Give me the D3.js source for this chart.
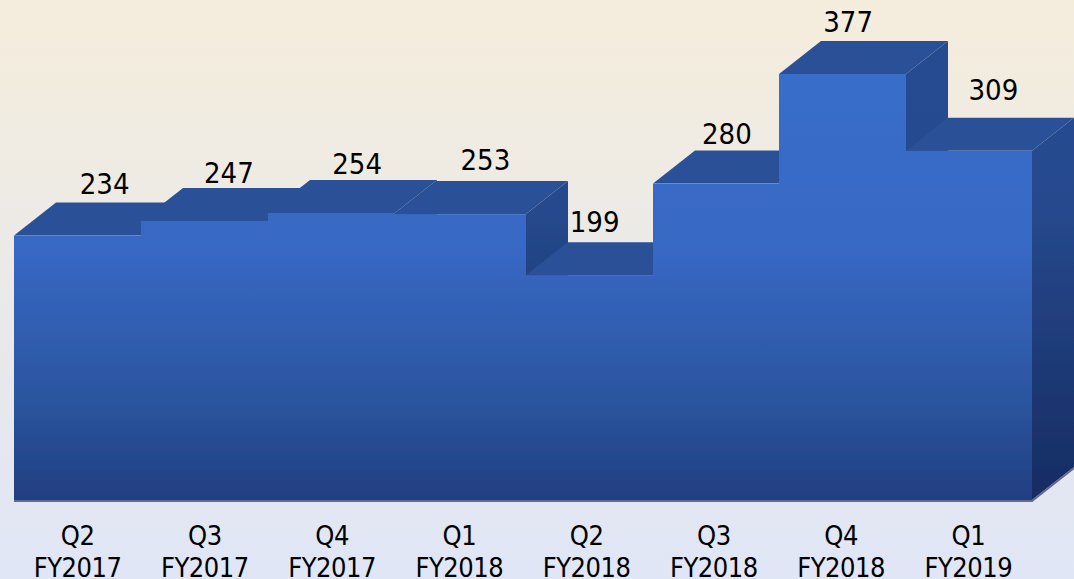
<!DOCTYPE html>
<html>
<head>
<meta charset="utf-8">
<script src="https://cdn.jsdelivr.net/npm/d3@7"></script>
<style>
  html, body { margin: 0; padding: 0; overflow: hidden; }
  svg { display: block; }
  text { font-family: "DejaVu Sans Condensed", "DejaVu Sans", sans-serif; font-stretch: condensed; fill: #000; }
</style>
</head>
<body>
<div id="chart"></div>
<script>
var quarters = ["Q2", "Q3", "Q4", "Q1", "Q2", "Q3", "Q4", "Q1"];
var years = ["FY2017", "FY2017", "FY2017", "FY2018", "FY2018", "FY2018", "FY2018", "FY2019"];
var values = [234, 247, 254, 253, 199, 280, 377, 309];

var width = 1074, height = 579;
var depthX = 42, depthY = 33;

// value labels were placed by hand in the original, not centred on the bars
var labelShiftX = [27, 24, 25, 26, 8, 13, 7, 25];
var labelGap = [9, 5, 6, 11, 10, 7, 9, 18];

var svg = d3.select("#chart").append("svg")
  .attr("width", width)
  .attr("height", height);

var defs = svg.append("defs");

function addGradient(id, stops) {
  var g = defs.append("linearGradient")
    .attr("id", id)
    .attr("gradientUnits", "userSpaceOnUse")
    .attr("x1", 0).attr("y1", 0).attr("x2", 0).attr("y2", 500);
  stops.forEach(function (s) {
    g.append("stop").attr("offset", s[0]).attr("stop-color", s[1]);
  });
}

addGradient("front", [[0, "#3a70cc"], [0.5, "#3768c4"], [0.8, "#2b559f"], [1, "#1f3f80"]]);
addGradient("side", [[0, "#264b92"], [0.4, "#264a8e"], [0.7, "#1f3b78"], [1, "#162c62"]]);

defs.append("filter")
  .attr("id", "soft")
  .append("feGaussianBlur")
  .attr("stdDeviation", 0.5);

var bgGrad = defs.append("linearGradient")
  .attr("id", "bg").attr("x1", 0).attr("y1", 0).attr("x2", 0).attr("y2", 1);
bgGrad.append("stop").attr("offset", 0).attr("stop-color", "#f5eddc");
bgGrad.append("stop").attr("offset", 1).attr("stop-color", "#e0e6f6");

svg.append("rect")
  .attr("width", width)
  .attr("height", height)
  .attr("fill", "url(#bg)");

// bars in the picture are not quite even, the 4th one is wider
var x = d3.scaleLinear()
  .domain([0, 3, 4, 8])
  .range([14, 395, 526, 1032])
  .interpolate(d3.interpolateRound);
var y = d3.scaleLinear().domain([0, 377]).range([500, 74]);
var xLabel = d3.scaleBand().domain(d3.range(values.length)).range([14, 1032]);

function poly(pts) {
  return d3.line()(pts) + "Z";
}

var barLayer = svg.append("g").attr("filter", "url(#soft)");

var bars = barLayer.selectAll("g.bar")
  .data(values)
  .enter()
  .append("g")
  .attr("class", "bar");

bars.append("path")
  .attr("fill", "url(#side)")
  .attr("d", function (d, i) {
    return poly([
      [x(i + 1), y(d)],
      [x(i + 1) + depthX, y(d) - depthY],
      [x(i + 1) + depthX, y(0) - depthY],
      [x(i + 1), y(0)]
    ]);
  });

bars.append("path")
  .attr("fill", "#2b5198")
  .attr("d", function (d, i) {
    return poly([
      [x(i), y(d)],
      [x(i) + depthX, y(d) - depthY],
      [x(i + 1) + depthX, y(d) - depthY],
      [x(i + 1), y(d)]
    ]);
  });

bars.append("rect")
  .attr("fill", "url(#front)")
  .attr("x", function (d, i) { return x(i); })
  .attr("y", function (d) { return y(d); })
  .attr("width", function (d, i) { return x(i + 1) - x(i); })
  .attr("height", function (d) { return y(0) - y(d); });

// soft shadow along the foot of the bars
barLayer.append("path")
  .attr("fill", "none")
  .attr("stroke", "#646b8c")
  .attr("stroke-width", 2)
  .attr("d", d3.line()([
    [x(0), y(0) + 1],
    [x(8), y(0) + 1],
    [x(8) + depthX, y(0) - depthY + 1]
  ]));

svg.selectAll("text.value")
  .data(values)
  .enter()
  .append("text")
  .attr("class", "value")
  .attr("text-anchor", "middle")
  .attr("font-size", 29)
  .attr("x", function (d, i) { return xLabel(i) + xLabel.bandwidth() / 2 + labelShiftX[i]; })
  .attr("y", function (d, i) { return y(d) - depthY - labelGap[i]; })
  .text(function (d) { return d; });

var cats = svg.selectAll("text.cat")
  .data(quarters)
  .enter()
  .append("text")
  .attr("class", "cat")
  .attr("text-anchor", "middle")
  .attr("letter-spacing", -0.5)
  .attr("font-size", 27);

cats.append("tspan")
  .attr("x", function (d, i) { return xLabel(i) + xLabel.bandwidth() / 2; })
  .attr("y", 545)
  .text(function (d) { return d; });

cats.append("tspan")
  .attr("x", function (d, i) { return xLabel(i) + xLabel.bandwidth() / 2; })
  .attr("y", 577)
  .text(function (d, i) { return years[i]; });
</script>
</body>
</html>
